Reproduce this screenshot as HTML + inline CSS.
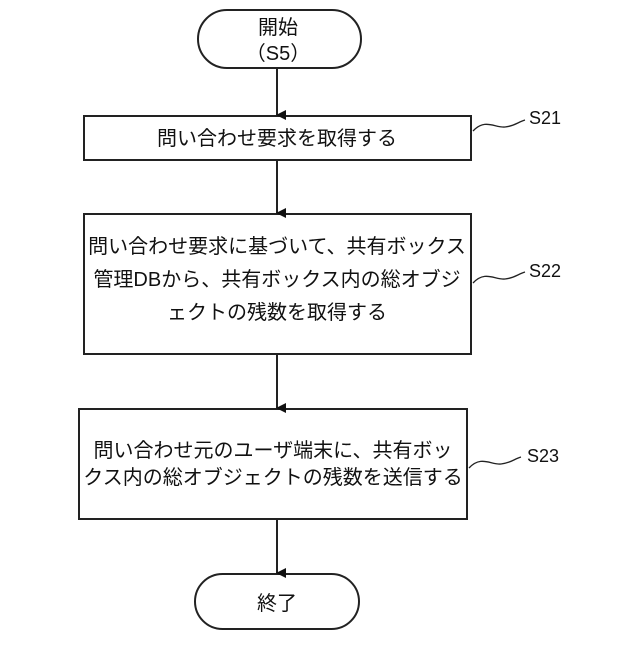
<!DOCTYPE html>
<html><head><meta charset="utf-8"><style>
body{margin:0;background:#fff;}
svg text{font-family:"Liberation Sans","Noto Sans CJK JP",sans-serif;fill:#111;}
</style></head><body>
<svg width="640" height="640" viewBox="0 0 640 640" xmlns="http://www.w3.org/2000/svg">
<defs><marker id="a" markerWidth="10" markerHeight="10" refX="5" refY="9" orient="auto" markerUnits="userSpaceOnUse"><path d="M0,0 L10,0 L5,10 Z" fill="#111"/></marker></defs>
<g fill="none" stroke="#222" stroke-width="2">
<rect x="198" y="10" width="163" height="58" rx="29"/>
<rect x="84" y="116" width="387" height="44"/>
<rect x="84" y="214" width="387" height="140"/>
<rect x="79" y="409" width="388" height="110"/>
<rect x="195" y="574" width="164" height="55" rx="27.5"/>
<line x1="277" y1="68" x2="277" y2="115" marker-end="url(#a)"/>
<line x1="277" y1="160" x2="277" y2="213" marker-end="url(#a)"/>
<line x1="277" y1="354" x2="277" y2="408" marker-end="url(#a)"/>
<line x1="277" y1="519" x2="277" y2="573" marker-end="url(#a)"/>
<g stroke-width="1.3">
<path d="M473,131 C485,118 495,128 505,127 C515,126 518,122 525,120"/>
<path d="M473,283 C485,270 495,280 505,279 C515,278 518,274 525,272"/>
<path d="M469,468 C481,455 491,465 501,464 C511,463 514,459 521,457"/>
</g>
</g>
<g font-size="20" text-anchor="middle">
<text x="278" y="34">開始</text>
<text x="278" y="60">（S5）</text>
<text x="277" y="145">問い合わせ要求を取得する</text>
<text x="277" y="253">問い合わせ要求に基づいて、共有ボックス</text>
<text x="277" y="286">管理DBから、共有ボックス内の総オブジ</text>
<text x="277" y="319">ェクトの残数を取得する</text>
<text x="273" y="457">問い合わせ元のユーザ端末に、共有ボッ</text>
<text x="273" y="484">クス内の総オブジェクトの残数を送信する</text>
<text x="277" y="610">終了</text>
</g>
<g font-size="18">
<text x="529" y="124">S21</text>
<text x="529" y="277">S22</text>
<text x="527" y="462">S23</text>
</g>
</svg>
</body></html>
